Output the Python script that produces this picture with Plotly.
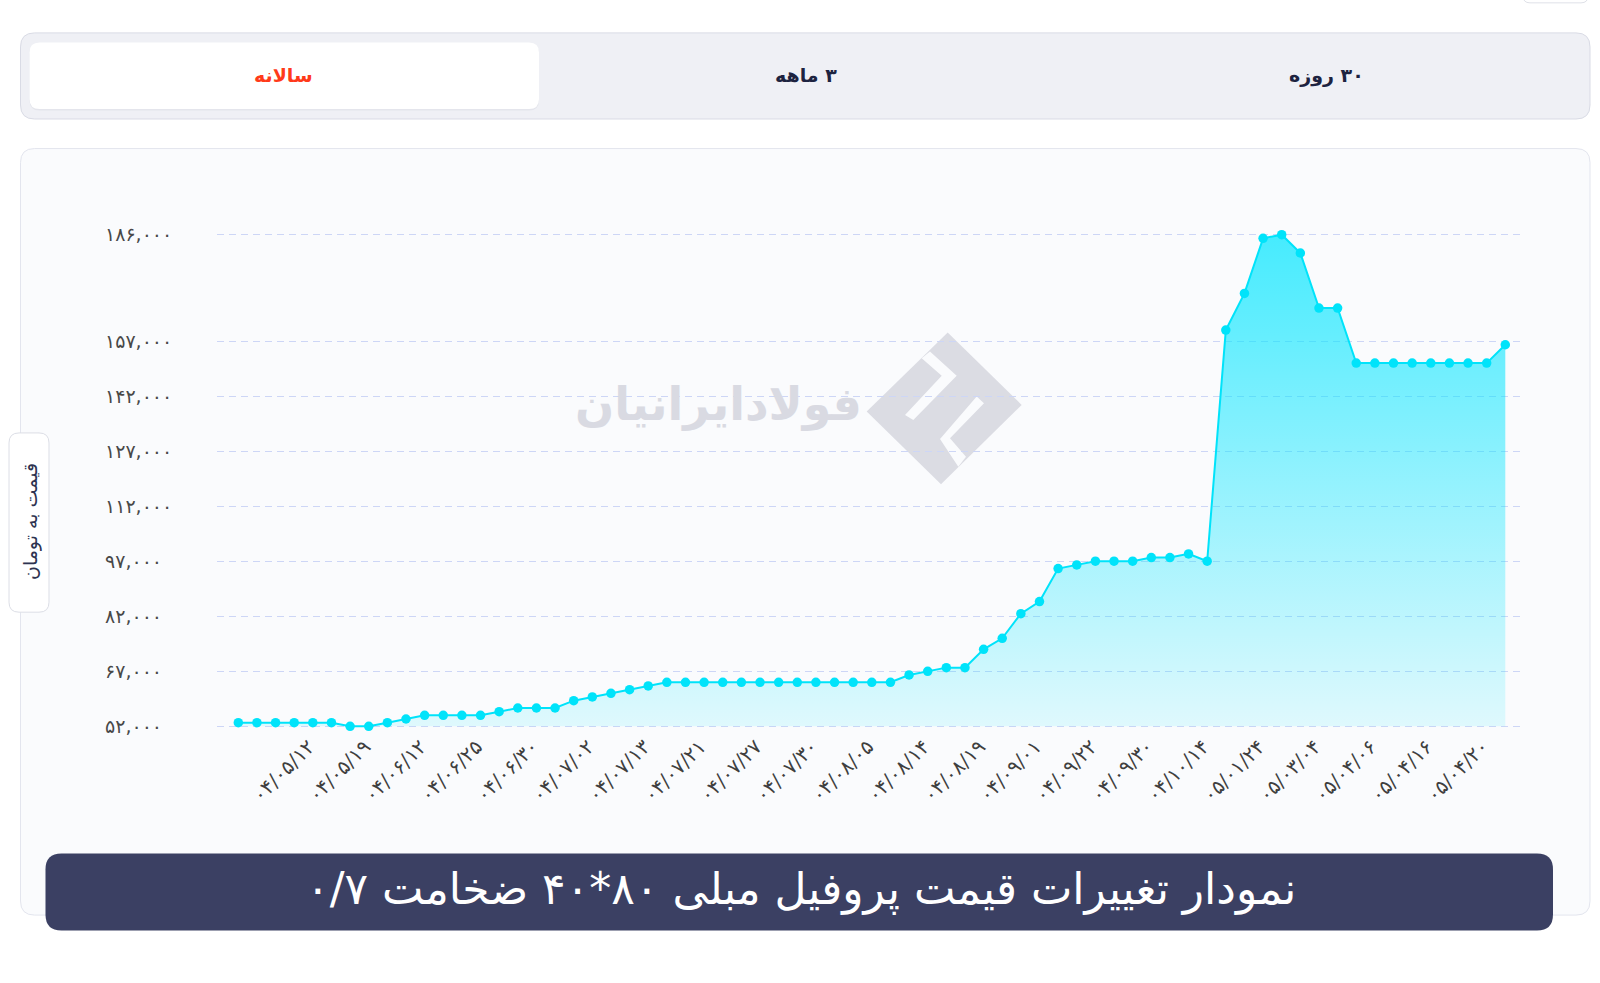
import plotly.graph_objects as go

# ---------------- data ----------------
X_LABELS = ["۰۴/۰۵/۱۲", "۰۴/۰۵/۱۹", "۰۴/۰۶/۱۲", "۰۴/۰۶/۲۵", "۰۴/۰۶/۳۰", "۰۴/۰۷/۰۲",
            "۰۴/۰۷/۱۳", "۰۴/۰۷/۲۱", "۰۴/۰۷/۲۷", "۰۴/۰۷/۳۰", "۰۴/۰۸/۰۵", "۰۴/۰۸/۱۴",
            "۰۴/۰۸/۱۹", "۰۴/۰۹/۰۱", "۰۴/۰۹/۲۲", "۰۴/۰۹/۳۰", "۰۴/۱۰/۱۴", "۰۵/۰۱/۲۴",
            "۰۵/۰۳/۰۴", "۰۵/۰۴/۰۶", "۰۵/۰۴/۱۶", "۰۵/۰۴/۲۰"]

PRICES = [53000, 53000, 53000, 53000, 53000, 53000, 52000, 52000, 53000, 54000,
          55000, 55000, 55000, 55000, 56000, 57000, 57000, 57000, 59000, 60000,
          61000, 62000, 63000, 64000, 64000, 64000, 64000, 64000, 64000, 64000,
          64000, 64000, 64000, 64000, 64000, 64000, 66000, 67000, 68000, 68000,
          73000, 76000, 82700, 86000, 95000, 96000, 97000, 97000, 97000, 98000,
          98000, 99000, 97000, 160000, 170000, 185000, 186000, 181000, 166000, 166000,
          151000, 151000, 151000, 151000, 151000, 151000, 151000, 151000, 156000]

Y_TICKS = [52000, 67000, 82000, 97000, 112000, 127000, 142000, 157000, 186000]
Y_TICK_TEXT = ["۵۲,۰۰۰", "۶۷,۰۰۰", "۸۲,۰۰۰", "۹۷,۰۰۰", "۱۱۲,۰۰۰", "۱۲۷,۰۰۰",
               "۱۴۲,۰۰۰", "۱۵۷,۰۰۰", "۱۸۶,۰۰۰"]

TABS = ["سالانه", "۳ ماهه", "۳۰ روزه"]
TITLE = "نمودار تغییرات قیمت پروفیل مبلی ۸۰*۴۰ ضخامت ۰/۷"
Y_TITLE = "قیمت به تومان"
WATERMARK = "فولادایرانیان"

# ---------------- layout geometry (pixels) ----------------
W, H = 1600, 983
PX_PER_1000 = 3.664
PAD_VAL = 1000
PL, PR = 217, 1524
PT = 235 - PX_PER_1000 * PAD_VAL / 1000
PB = 726 + PX_PER_1000 * PAD_VAL / 1000
LABEL_STEP = 3
LABEL_START = 4
FONT = "DejaVu Sans"
CYAN = "#00E3FA"


def px2x(px):
    return (px - PL) / (PR - PL)


def py2y(py):
    return (PB - py) / (PB - PT)


def P(px, py):
    return f"{px2x(px):.5f},{py2y(py):.5f}"


def rrect(x0, y0, x1, y1, r):
    return (f"M {P(x0 + r, y0)} L {P(x1 - r, y0)} Q {P(x1, y0)} {P(x1, y0 + r)} "
            f"L {P(x1, y1 - r)} Q {P(x1, y1)} {P(x1 - r, y1)} "
            f"L {P(x0 + r, y1)} Q {P(x0, y1)} {P(x0, y1 - r)} "
            f"L {P(x0, y0 + r)} Q {P(x0, y0)} {P(x0 + r, y0)} Z")


def poly(pts):
    return "M " + " L ".join(P(a, b) for a, b in pts) + " Z"


def shape_path(path, fill, line=None, lw=1):
    return dict(type="path", path=path, xref="paper", yref="paper", layer="below",
                fillcolor=fill, line=dict(color=line or "rgba(0,0,0,0)", width=lw if line else 0))


xs = list(range(len(PRICES)))
baseline = [Y_TICKS[0]] * len(PRICES)

fig = go.Figure()
fig.add_trace(go.Scatter(x=xs, y=baseline, mode="lines", line=dict(width=0, color="rgba(0,0,0,0)"),
                         hoverinfo="skip", showlegend=False))
fig.add_trace(go.Scatter(
    x=xs, y=PRICES, mode="lines+markers",
    line=dict(color=CYAN, width=2),
    marker=dict(size=9.5, color=CYAN),
    fill="tonexty",
    fillgradient=dict(type="vertical", start=Y_TICKS[0], stop=Y_TICKS[-1],
                      colorscale=[[0, "rgba(0,229,255,0.11)"], [1, "rgba(0,229,255,0.72)"]]),
    cliponaxis=False, hoverinfo="skip", showlegend=False,
))

shapes = []
# page elements
shapes.append(shape_path(rrect(1523, -12, 1588, 3.5, 7), "white", "#dfe1e8"))
shapes.append(shape_path(rrect(20.5, 33.5, 1590, 119.5, 14), "#eff0f5", "#d9dbe5"))
shapes.append(shape_path(rrect(29.5, 44.5, 539, 111, 10), "#e4e5ec"))
shapes.append(shape_path(rrect(29.5, 43, 539, 109.5, 10), "white"))
shapes.append(shape_path(rrect(20.5, 149, 1590, 914.5, 14), "#fafbfd", "#e3e5ee"))
shapes.append(shape_path(rrect(45.5, 853, 1553, 930, 16), "#3b4063"))
shapes.append(shape_path(rrect(9, 433, 49, 612, 10), "white", "#dcdee6"))
# watermark logo
shapes.append(shape_path(poly([(947.7, 332.7), (1021.7, 405), (941, 484.3), (866.7, 411.7)]), "#dbdce3"))
shapes.append(shape_path(poly([(921.7, 358.3), (930, 351.7), (956.7, 376), (913.3, 420),
                               (905, 415), (941.7, 376)]), "#fafbfd"))
shapes.append(shape_path(poly([(976.7, 396.7), (984, 403.3), (950, 438.3), (966, 456.7),
                               (958.3, 466.7), (940, 439)]), "#fafbfd"))

annotations = []
tab_x = [283.7, 806, 1326.5]
tab_col = ["#ff3a1a", "#1d2340", "#1d2340"]
for t, x, c in zip(TABS, tab_x, tab_col):
    annotations.append(dict(text="<b>\u200f" + t + "</b>", x=px2x(x), y=py2y(76), xref="paper", yref="paper",
                            showarrow=False, font=dict(family=FONT, size=19, color=c),
                            xanchor="center", yanchor="middle"))
annotations.append(dict(text=TITLE, x=px2x(801), y=py2y(888), xref="paper", yref="paper",
                        showarrow=False, font=dict(family=FONT, size=44, color="white"),
                        xanchor="center", yanchor="middle"))
annotations.append(dict(text=Y_TITLE, x=px2x(30), y=py2y(522), xref="paper", yref="paper",
                        showarrow=False, textangle=-90, font=dict(family=FONT, size=19, color="#2e3350"),
                        xanchor="center", yanchor="middle"))
annotations.append(dict(text="<b>" + WATERMARK + "</b>", x=px2x(718), y=py2y(404), xref="paper", yref="paper",
                        showarrow=False, font=dict(family=FONT, size=46, color="#d9dae2"),
                        xanchor="center", yanchor="middle"))

fig.update_layout(
    width=W, height=H, autosize=False,
    margin=dict(l=PL, r=W - PR, t=PT, b=H - PB, pad=0),
    paper_bgcolor="white", plot_bgcolor="rgba(0,0,0,0)",
    font=dict(family=FONT),
    shapes=shapes, annotations=annotations,
    showlegend=False,
)
fig.update_xaxes(
    range=[-(238.3 - PL) / 18.63, len(PRICES) - 1 + (PR - 1505.3) / 18.63],
    tickmode="array",
    tickvals=xs[LABEL_START::LABEL_STEP],
    ticktext=X_LABELS,
    tickangle=-45, ticks="", showgrid=False, zeroline=False, showline=False,
    ticklabelshift=-4,
    tickfont=dict(family=FONT, size=20, color="#3f3f3f"),
)
fig.update_yaxes(
    range=[Y_TICKS[0] - PAD_VAL, Y_TICKS[-1] + PAD_VAL],
    tickmode="array", tickvals=Y_TICKS, ticktext=Y_TICK_TEXT,
    ticks="", showgrid=True, gridcolor="#cdd6f6", gridwidth=1.2, griddash="7px,5px",
    zeroline=False, showline=False,
    ticklabelposition="inside", ticklabelstandoff=-(PL - 102), ticklabeloverflow="allow",
    tickfont=dict(family=FONT, size=19, color="#484848"),
)

fig.write_html("out.html")
